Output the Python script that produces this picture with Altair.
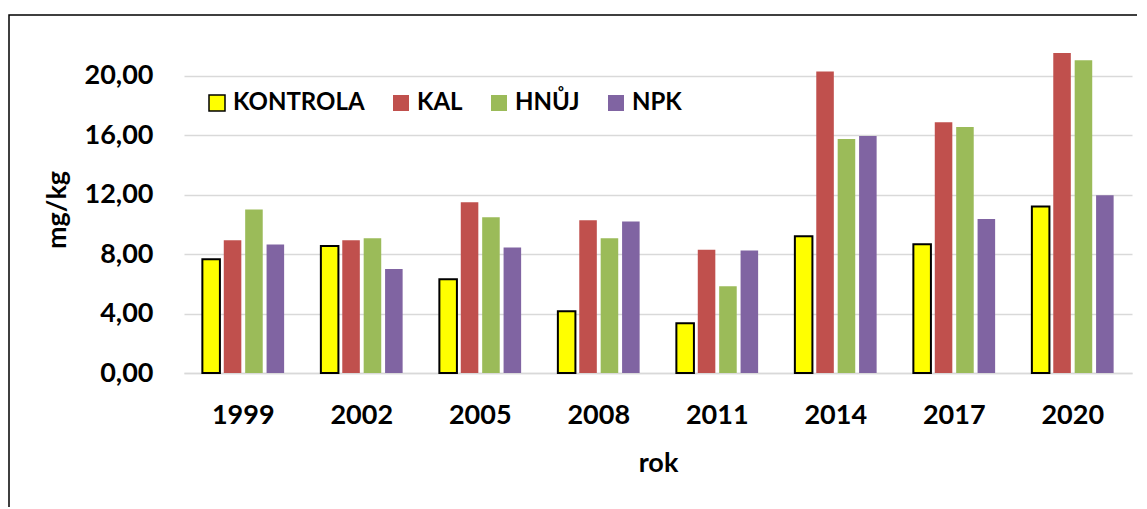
import altair as alt
import pandas as pd

years = ["1999", "2002", "2005", "2008", "2011", "2014", "2017", "2020"]
series = ["KONTROLA", "KAL", "HNŮJ", "NPK"]
kontrola = [7.65, 8.55, 6.31, 4.16, 3.35, 9.20, 8.66, 11.20]
kal = [8.93, 8.93, 11.49, 10.28, 8.30, 20.28, 16.87, 21.53]
hnuj = [11.00, 9.06, 10.48, 9.06, 5.84, 15.74, 16.55, 21.04]
npk = [8.64, 7.00, 8.44, 10.19, 8.24, 15.94, 10.36, 11.96]
colors = ["#FFFF00", "#C0504D", "#9BBB59", "#8064A2"]
strokes = ["#000000", "transparent", "transparent", "transparent"]
y_ticks = [0, 4, 8, 12, 16, 20]

rows = []
for name, vals in zip(series, [kontrola, kal, hnuj, npk]):
    for yr, v in zip(years, vals):
        rows.append({"rok": yr, "serie": name, "hodnota": v})
df = pd.DataFrame(rows)

W, H = 948, 327
FONT = "Lato"

bars = alt.Chart(df).mark_bar(strokeWidth=2).encode(
    x=alt.X("rok:N", sort=years,
            scale=alt.Scale(paddingInner=0.31, paddingOuter=0.155),
            axis=alt.Axis(title="rok", labelAngle=0, ticks=False, tickSize=0,
                          domain=True, domainColor="#d9d9d9", domainWidth=1.5,
                          labelFont=FONT, labelFontSize=27, labelFontWeight="bold",
                          labelColor="black", labelBaseline="alphabetic", labelPadding=50,
                          titleFont=FONT, titleFontSize=27, titleFontWeight="bold",
                          titleColor="black", titleBaseline="alphabetic", titleY=98)),
    xOffset=alt.XOffset("serie:N", sort=series,
                        scale=alt.Scale(paddingInner=0.18, paddingOuter=0)),
    y=alt.Y("hodnota:Q", scale=alt.Scale(domain=[0, 22], nice=False),
            axis=alt.Axis(title="mg/kg", values=y_ticks, domain=False, ticks=False, tickSize=0,
                          grid=True, gridColor="#d9d9d9", gridWidth=1.5,
                          labelExpr="replace(format(datum.value, '.2f'), '.', ',')",
                          labelFont=FONT, labelFontSize=27, labelFontWeight="bold",
                          labelColor="black", labelPadding=31,
                          titleFont=FONT, titleFontSize=27, titleFontWeight="bold",
                          titleColor="black", titleAngle=270, titleBaseline="alphabetic",
                          titleX=-119, titleY=H / 2)),
    color=alt.Color("serie:N", sort=series,
                    scale=alt.Scale(domain=series, range=colors),
                    legend=alt.Legend(title=None, orient="none", legendX=21, legendY=45,
                                      direction="horizontal", columns=4,
                                      symbolType="square", symbolSize=256,
                                      symbolStrokeWidth=1.5, symbolOpacity=1,
                                      labelFont=FONT, labelFontSize=24, labelFontWeight="bold",
                                      labelColor="black", labelOffset=4,
                                      columnPadding=24, padding=0)),
    stroke=alt.Stroke("serie:N", sort=series,
                      scale=alt.Scale(domain=series, range=strokes)),
)

frame = alt.Chart(pd.DataFrame({"a": [0]})).mark_rect(
    fillOpacity=0, stroke="black", strokeWidth=1.5, clip=False
).encode(
    x=alt.value(-175), x2=alt.value(W + 100),
    y=alt.value(-31), y2=alt.value(H + 200),
)

chart = alt.layer(bars, frame).properties(
    width=W, height=H,
    autosize=alt.AutoSizeParams(type="none"),
    padding={"left": 176, "top": 38, "right": 5, "bottom": 134},
).configure_view(stroke=None)

chart.save("out.html", embed_options={"renderer": "svg", "actions": False})
